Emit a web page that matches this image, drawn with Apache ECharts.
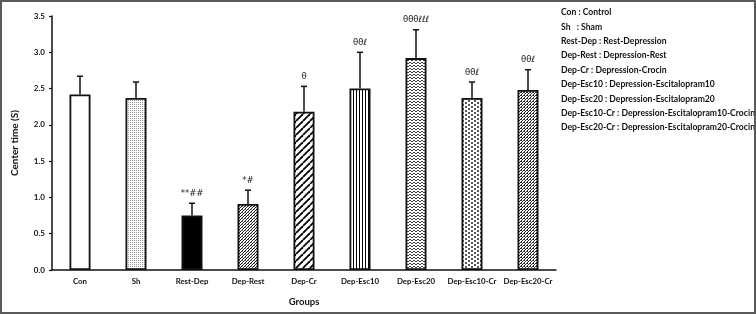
<!DOCTYPE html>
<html>
<head>
<meta charset="utf-8">
<script src="https://cdn.jsdelivr.net/npm/echarts@6/dist/echarts.min.js"></script>
<style>
    html, body { margin: 0; padding: 0; background: #fff; }
    #chart {
        width: 756px; height: 314px;
        box-sizing: border-box;
        border: 2px solid #5a5a5a;
    }
</style>
</head>
<body>
<div id="chart"></div>
<script>
    // groups on x axis
    var groups = ['Con', 'Sh', 'Rest-Dep', 'Dep-Rest', 'Dep-Cr', 'Dep-Esc10', 'Dep-Esc20', 'Dep-Esc10-Cr', 'Dep-Esc20-Cr'];
    // mean center time (s)
    var means = [2.42, 2.37, 0.75, 0.91, 2.18, 2.50, 2.92, 2.37, 2.48];
    // upper error (SEM)
    var errors = [0.25, 0.22, 0.17, 0.19, 0.35, 0.50, 0.39, 0.22, 0.28];
    // significance marks above bars
    var marks = ['', '', '**##', '*#', '\u03b8', '\u03b8\u03b8\u2113', '\u03b8\u03b8\u03b8\u2113\u2113\u2113', '\u03b8\u03b8\u2113', '\u03b8\u03b8\u2113'];
    var yTicks = { min: 0, max: 3.5, interval: 0.5 };
    var legendLines = [
        'Con : Control',
        'Sh   : Sham',
        'Rest-Dep : Rest-Depression',
        'Dep-Rest : Depression-Rest',
        'Dep-Cr : Depression-Crocin',
        'Dep-Esc10 : Depression-Escitalopram10',
        'Dep-Esc20 : Depression-Escitalopram20',
        'Dep-Esc10-Cr : Depression-Escitalopram10-Crocin',
        'Dep-Esc20-Cr : Depression-Escitalopram20-Crocin'
    ];

    var FONT = 'Lato, "Open Sans", sans-serif';

    function makePattern(w, h, draw) {
        var c = document.createElement('canvas');
        c.width = w; c.height = h;
        var ctx = c.getContext('2d');
        ctx.fillStyle = '#fff';
        ctx.fillRect(0, 0, w, h);
        draw(ctx);
        return { image: c, repeat: 'repeat' };
    }

    // fill patterns, one per bar
    var fills = [
        '#ffffff',
        makePattern(2, 2, function (ctx) { ctx.fillStyle = '#9a9a9a'; ctx.fillRect(0, 0, 1, 1); }),
        '#000000',
        makePattern(3, 3, function (ctx) {
            ctx.fillStyle = '#1a1a1a';
            for (var i = 0; i < 3; i++) ctx.fillRect(i, 2 - i, 1, 1);
            ctx.fillStyle = '#888';
            ctx.fillRect(0, 0, 1, 1);
        }),
        makePattern(7, 7, function (ctx) {
            ctx.strokeStyle = '#000'; ctx.lineWidth = 1.8;
            [-7, 0, 7].forEach(function (x0) {
                ctx.beginPath(); ctx.moveTo(x0, 7); ctx.lineTo(x0 + 7, 0); ctx.stroke();
            });
        }),
        makePattern(3, 1, function (ctx) { ctx.fillStyle = '#000'; ctx.fillRect(0, 0, 1, 1); }),
        makePattern(4, 3, function (ctx) {
            ctx.fillStyle = '#3a3a3a';
            ctx.fillRect(0, 0, 1, 1); ctx.fillRect(1, 1, 1, 1);
            ctx.fillRect(2, 1, 1, 1); ctx.fillRect(3, 0, 1, 1);
        }),
        makePattern(6, 4, function (ctx) {
            ctx.fillStyle = '#555';
            ctx.fillRect(1, 0, 2, 2); ctx.fillRect(4, 2, 2, 2);
        }),
        makePattern(3, 3, function (ctx) {
            ctx.fillStyle = '#2a2a2a';
            ctx.fillRect(0, 0, 1, 1); ctx.fillRect(2, 0, 1, 1);
            ctx.fillRect(1, 1, 1, 1); ctx.fillRect(0, 2, 1, 1);
        })
    ];

    var barData = means.map(function (v, i) {
        return { value: v, itemStyle: { color: fills[i] } };
    });
    var errData = means.map(function (v, i) { return [i, v, errors[i]]; });

    var option = {
        animation: false,
        backgroundColor: '#fff',
        grid: { left: 46, right: 198, top: 14, bottom: 42 },
        xAxis: {
            type: 'category',
            data: groups,
            axisLine: { lineStyle: { color: '#111', width: 1.5 } },
            axisTick: { show: false },
            axisLabel: { color: '#111', fontSize: 7.8, fontWeight: 'bold', fontFamily: FONT, margin: 7, interval: 0 },
            name: 'Groups',
            nameLocation: 'middle',
            nameGap: 27,
            nameTextStyle: { color: '#111', fontSize: 9.5, fontWeight: 'bold', fontFamily: FONT }
        },
        yAxis: {
            type: 'value',
            min: yTicks.min, max: yTicks.max, interval: yTicks.interval,
            axisLine: { show: true, lineStyle: { color: '#111', width: 1.5 } },
            axisTick: { show: true, length: 3, lineStyle: { color: '#111', width: 1.2 } },
            splitLine: { show: false },
            axisLabel: {
                color: '#111', fontSize: 8, fontWeight: 'bold', fontFamily: FONT, margin: 7,
                formatter: function (v) { return v.toFixed(1); }
            },
            name: 'Center time (S)',
            nameLocation: 'middle',
            nameGap: 32,
            nameTextStyle: { color: '#111', fontSize: 10, fontWeight: 'bold', fontFamily: FONT }
        },
        series: [
            {
                type: 'bar',
                data: barData,
                barWidth: 21,
                itemStyle: { borderColor: '#111', borderWidth: 1.8 },
                z: 2
            },
            {
                type: 'custom',
                data: errData,
                z: 3,
                renderItem: function (params, api) {
                    var i = api.value(0), v = api.value(1), e = api.value(2);
                    var p0 = api.coord([i, v]);
                    var p1 = api.coord([i, v + e]);
                    var st = { stroke: '#111', lineWidth: 1.5 };
                    return {
                        type: 'group',
                        children: [
                            { type: 'line', shape: { x1: p0[0], y1: p0[1], x2: p1[0], y2: p1[1] }, style: st },
                            { type: 'line', shape: { x1: p1[0] - 3, y1: p1[1], x2: p1[0] + 3, y2: p1[1] }, style: st },
                            {
                                type: 'text', x: p1[0], y: p1[1] - 5,
                                style: {
                                    text: marks[params.dataIndex], align: 'center', verticalAlign: 'bottom',
                                    fontSize: 8.5, fontFamily: '"DejaVu Sans", sans-serif', fill: '#222'
                                }
                            }
                        ]
                    };
                }
            }
        ],
        graphic: legendLines.map(function (t, i) {
            return {
                type: 'text',
                left: 559,
                top: 6 + i * 14.4,
                style: { text: t, fontSize: 8.6, fontWeight: 'bold', fontFamily: FONT, fill: '#111' }
            };
        })
    };

    var chart = echarts.init(document.getElementById('chart'));
    chart.setOption(option);
</script>
</body>
</html>
